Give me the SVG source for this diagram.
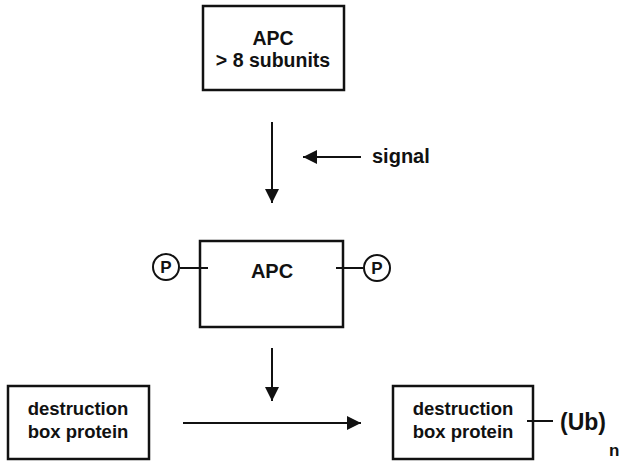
<svg xmlns="http://www.w3.org/2000/svg" width="624" height="461" viewBox="0 0 624 461">
<style>
.box{fill:#fff;stroke:#111;stroke-width:2.5}
.ln{stroke:#111;stroke-width:2;fill:none}
.t{font-family:"Liberation Sans",Arial,sans-serif;font-weight:bold;font-size:18.5px;fill:#111;text-anchor:middle}
.p{font-family:"Liberation Sans",Arial,sans-serif;font-weight:bold;font-size:17px;fill:#111;text-anchor:middle}
.c{fill:#fff;stroke:#111;stroke-width:2}
</style>
<defs>
<marker id="ah" viewBox="0 0 14 14" refX="14" refY="7" markerWidth="14" markerHeight="14" markerUnits="userSpaceOnUse" orient="auto">
<path d="M0,0 L14,7 L0,14 Z" fill="#111"/>
</marker>
</defs>
<rect width="624" height="461" fill="#fff"/>
<g id="connectors">
<line class="ln" x1="272" y1="122" x2="272" y2="203" marker-end="url(#ah)"/>
<line class="ln" x1="361" y1="157" x2="303" y2="157" marker-end="url(#ah)"/>
<line class="ln" x1="272" y1="348" x2="272" y2="401" marker-end="url(#ah)"/>
<line class="ln" x1="183" y1="423" x2="361" y2="423" marker-end="url(#ah)"/>
</g>
<g id="apc-top">
<rect class="box" x="203" y="6" width="141" height="84"/>
<text class="t" x="273" y="45" style="font-size:19.5px">APC</text>
<text class="t" x="273" y="67" style="font-size:19.5px">&gt; 8 subunits</text>
</g>
<g id="signal">
<text class="t" x="372" y="163" style="text-anchor:start;font-size:20px">signal</text>
</g>
<g id="apc-p">
<rect class="box" x="200" y="241" width="143" height="86"/>
<text class="t" x="272" y="278" style="font-size:20px">APC</text>
<line class="ln" x1="180" y1="268" x2="208" y2="268"/>
<line class="ln" x1="336" y1="268" x2="363" y2="268"/>
<circle class="c" cx="166" cy="267" r="13"/>
<text class="p" x="166" y="273">P</text>
<circle class="c" cx="377" cy="268" r="13"/>
<text class="p" x="377" y="274">P</text>
</g>
<g id="dbp-left">
<rect class="box" x="8" y="386" width="141" height="73"/>
<text class="t" x="78" y="415">destruction</text>
<text class="t" x="78" y="438">box protein</text>
</g>
<g id="dbp-right">
<rect class="box" x="393" y="386" width="140" height="73"/>
<text class="t" x="463" y="415">destruction</text>
<text class="t" x="463" y="438">box protein</text>
<line class="ln" x1="527" y1="421" x2="553" y2="421"/>
<text class="t" x="560" y="430" style="text-anchor:start;font-size:23px">(Ub)</text>
<text class="t" x="609" y="456" style="text-anchor:start;font-size:17px">n</text>
</g>
</svg>
